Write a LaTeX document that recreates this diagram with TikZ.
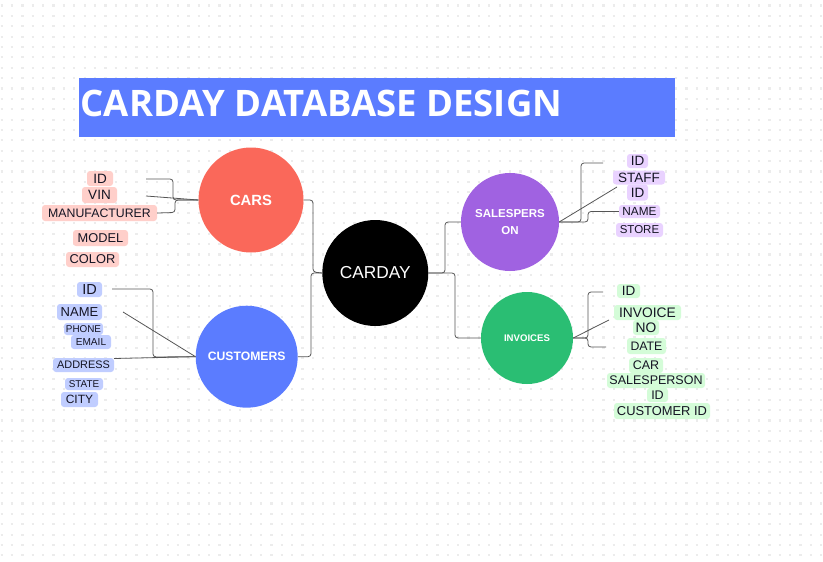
\documentclass[tikz,border=0pt]{standalone}
\usepackage{fontspec}
\setmainfont{Liberation Sans}
\newfontfamily\titlefont{Open Sans}
\newcommand{\labfs}[1]{\fontsize{#1}{#1}\selectfont}
\definecolor{titleblue}{RGB}{91,124,255}
\definecolor{carsred}{RGB}{250,104,90}
\definecolor{salespurple}{RGB}{160,98,225}
\definecolor{invgreen}{RGB}{42,190,115}
\definecolor{pinkfill}{RGB}{255,207,202}
\definecolor{bluefill}{RGB}{192,205,255}
\definecolor{purplefill}{RGB}{233,210,255}
\definecolor{greenfill}{RGB}{212,252,216}
\definecolor{txt}{RGB}{20,20,35}
\definecolor{linegray}{RGB}{85,85,85}
\definecolor{dotgray}{RGB}{236,236,236}
\tikzset{
  box/.style={rounded corners=3pt, inner sep=0pt, text=txt},
  pk/.style={box, fill=pinkfill},
  bl/.style={box, fill=bluefill},
  pu/.style={box, fill=purplefill},
  gr/.style={box, fill=greenfill},
  hub/.style={circle, inner sep=0pt, text=white},
  link/.style={draw=linegray, line width=0.8pt, rounded corners=3pt},
}
\begin{document}
\begin{tikzpicture}[x=1pt,y=-1pt]
\useasboundingbox (0,0) rectangle (823,562);
\fill[white] (0,0) rectangle (823,562);
% dot grid
\foreach \k in {0,...,53}{
  \draw[dotgray, line width=2.2pt, dash pattern=on 2.2pt off 8.175pt] (0.6,5.5+10.375*\k) -- (823,5.5+10.375*\k);
}
% title
\fill[titleblue] (79,78) rectangle (675,137);
\node[anchor=base west, inner sep=0pt, text=white, font=\titlefont\bfseries\labfs{36.5}] (title) at (80.5,116.7) {CARDAY DATABASE DESIGN};

% hubs
\node[hub, fill=black, minimum size=106pt, font=\labfs{17.3}] (carday) at (375.3,273) {CARDAY};
\node[hub, fill=carsred, minimum size=105pt, font=\bfseries\labfs{14.8}] (cars) at (251,200) {CARS};
\node[hub, fill=titleblue, minimum size=102pt, font=\bfseries\labfs{12.2}] (customers) at (246.7,356.7) {CUSTOMERS};
\node[hub, fill=salespurple, minimum size=98pt, font=\bfseries\labfs{11.5}, align=center] (sales) at (510,222) {SALESPERS\\[5pt]ON};
\node[hub, fill=invgreen, minimum size=92pt, font=\bfseries\labfs{9.6}] (invoices) at (527,338) {INVOICES};

% hub connectors
\draw[link] (cars.east) -- (313,200) -- (313,272) -- (carday.west);
\draw[link] (customers.east) -- (311,356.7) -- (311,273) -- (carday.west);
\draw[link] (carday.east) -- (445,273) -- (445,222) -- (sales.west);
\draw[link] (carday.east) -- (455,273) -- (455,338) -- (invoices.west);

% CARS attributes
\node[pk, minimum width=26pt, minimum height=15pt, font=\labfs{13.5}] (cid) at (100,178.5) {ID};
\node[pk, minimum width=35pt, minimum height=16pt, font=\labfs{13.5}] (cvin) at (99.5,195) {VIN};
\node[pk, minimum width=115pt, minimum height=16pt, font=\labfs{12.3}] (cman) at (99.5,213) {MANUFACTURER};
\node[pk, minimum width=55pt, minimum height=16pt, font=\labfs{12.8}] (cmodel) at (100.5,238) {MODEL};
\node[pk, minimum width=53pt, minimum height=15pt, font=\labfs{12.8}] (ccolor) at (92.5,259.5) {COLOR};
\coordinate (c1) at (146,179);
\coordinate (c2) at (146,196);
\draw[link] (c1) -- (173,179) -- (173,200) -- (cars.west);
\draw[link] (c2) -- (cars.west);
\draw[link] (cman.east) -- (175,212.5) -- (175,200) -- (cars.west);

% CUSTOMERS attributes
\node[bl, minimum width=25pt, minimum height=15pt, font=\labfs{14.5}] (uid) at (89.5,289.5) {ID};
\node[bl, minimum width=45pt, minimum height=16pt, font=\labfs{13}] (uname) at (79.5,312) {NAME};
\node[bl, minimum width=39pt, minimum height=12pt, font=\labfs{9.9}] (uphone) at (83.5,329) {PHONE};
\node[bl, minimum width=40pt, minimum height=14pt, font=\labfs{10.1}] (uemail) at (91,342) {EMAIL};
\node[bl, minimum width=61pt, minimum height=14pt, font=\labfs{10.9}] (uaddr) at (83.5,365) {ADDRESS};
\node[bl, minimum width=38pt, minimum height=12pt, font=\labfs{9.9}] (ustate) at (84,384) {STATE};
\node[bl, minimum width=37pt, minimum height=15pt, font=\labfs{12}] (ucity) at (79.5,399.5) {CITY};
\coordinate (u1) at (112,289);
\coordinate (u2) at (123,312);
\coordinate (u3) at (114,358.5);
\draw[link] (u1) -- (153,289) -- (153,357) -- (customers.west);
\draw[link] (u2) -- (customers.west);
\draw[link] (u3) -- (customers.west);

% SALESPERSON attributes
\node[pu, minimum width=21pt, minimum height=14pt, font=\labfs{13.5}] (sid) at (637.5,161) {ID};
\node[pu, minimum width=21pt, minimum height=16pt, font=\labfs{13.5}] (sstaffid) at (637.5,192.5) {ID};
\node[pu, minimum width=52pt, minimum height=14pt, font=\labfs{13.5}] (sstaff) at (639,177.5) {STAFF};
\node[pu, minimum width=41pt, minimum height=13pt, font=\labfs{11.8}] (sname) at (639.5,211.5) {NAME};
\node[pu, minimum width=47pt, minimum height=14pt, font=\labfs{11.5}] (sstore) at (639.5,230) {STORE};
\coordinate (s1) at (603,163);
\coordinate (s2) at (617,187);
\draw[link] (sales.east) -- (581,222) -- (581,163) -- (s1);
\draw[link] (sales.east) -- (s2);
\draw[link] (sales.east) -- (588,222) -- (588,211.5) -- (sname.west);

% INVOICES attributes
\node[gr, minimum width=23pt, minimum height=14pt, font=\labfs{13.5}] (iid) at (628.5,291) {ID};
\node[gr, minimum width=26pt, minimum height=15pt, font=\labfs{13.8}] (ino) at (646,327.5) {NO};
\node[gr, minimum width=67pt, minimum height=15pt, font=\labfs{13.8}] (iinv) at (647.5,312.5) {INVOICE};
\node[gr, minimum width=39pt, minimum height=16pt, font=\labfs{12.3}] (idate) at (646.5,346) {DATE};
\node[gr, minimum width=34pt, minimum height=15pt, font=\labfs{12.5}] (icar) at (646,365.5) {CAR};
\node[gr, minimum width=21pt, minimum height=14pt, font=\labfs{12.5}] (ispid) at (657.5,395) {ID};
\node[gr, minimum width=98pt, minimum height=15pt, font=\labfs{12.5}] (isp) at (656,380.5) {SALESPERSON};
\node[gr, minimum width=96pt, minimum height=16pt, font=\labfs{12.9}] (icust) at (662,411) {CUSTOMER ID};
\coordinate (i1) at (603,292);
\coordinate (i2) at (609,320);
\coordinate (i3) at (606,347);
\draw[link] (invoices.east) -- (588,338) -- (588,292) -- (i1);
\draw[link] (invoices.east) -- (i2);
\draw[link] (invoices.east) -- (588,338) -- (588,347) -- (i3);
\end{tikzpicture}
\end{document}
